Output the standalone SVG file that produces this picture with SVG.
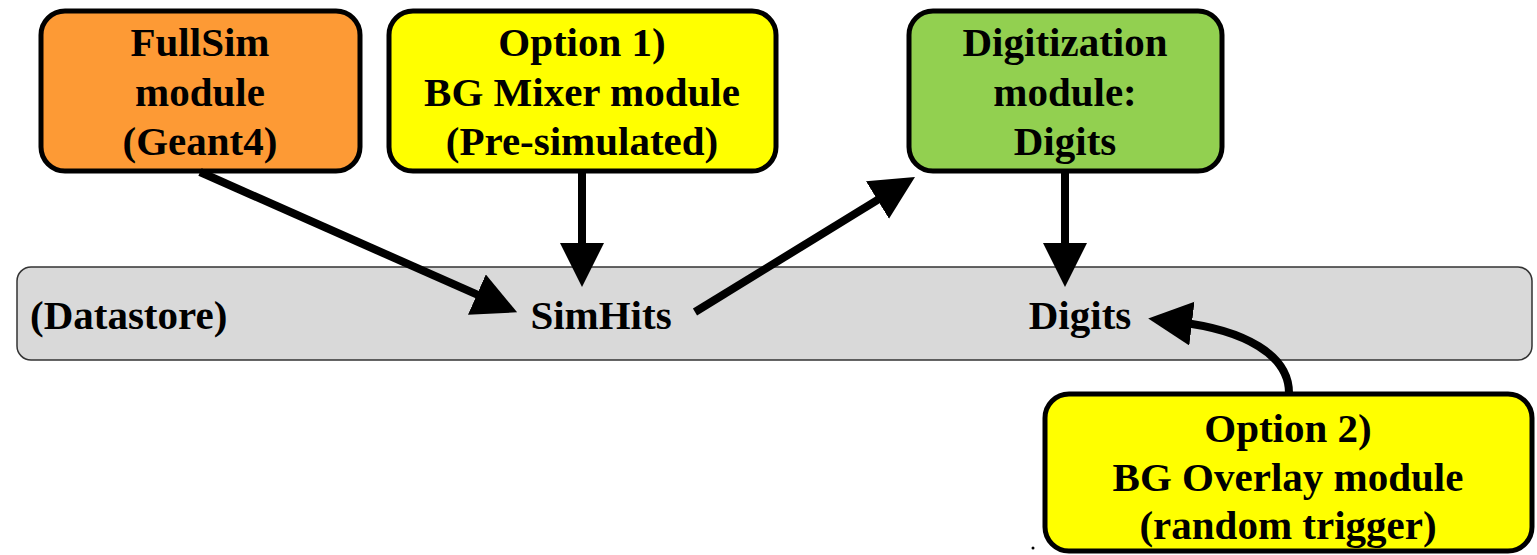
<svg xmlns="http://www.w3.org/2000/svg" width="1537" height="555" viewBox="0 0 1537 555">
<style>
.box{stroke:#000;stroke-width:5}
.t{font-family:'Liberation Serif','Times New Roman',serif;font-weight:700;font-size:41px;fill:#000;text-anchor:middle}
.c{fill:none;stroke:#000;stroke-width:8}
</style>
<defs>
<marker id="ah" markerUnits="userSpaceOnUse" markerWidth="46" markerHeight="46" refX="14" refY="22" orient="auto" viewBox="0 0 46 46">
<path d="M0,0 L44,22 L0,44 Z" fill="#000"/>
</marker>
</defs>
<rect width="1537" height="555" fill="#fff"/>
<g id="datastore">
<rect x="17" y="267" width="1515" height="93" rx="14" fill="#d9d9d9" stroke="#333" stroke-width="1.5"/>
<text class="t" x="30" y="329" style="text-anchor:start">(Datastore)</text>
<text class="t" x="601" y="329">SimHits</text>
<text class="t" x="1080" y="329">Digits</text>
</g>
<g id="fullsim">
<rect class="box" x="41" y="11" width="319" height="160" rx="24" fill="#fd9a35"/>
<text class="t" x="200" y="56">FullSim</text>
<text class="t" x="200" y="106">module</text>
<text class="t" x="200" y="155">(Geant4)</text>
</g>
<g id="option1">
<rect class="box" x="389" y="11" width="387" height="160" rx="24" fill="#ffff00"/>
<text class="t" x="582" y="56">Option 1)</text>
<text class="t" x="582" y="106">BG Mixer module</text>
<text class="t" x="582" y="155">(Pre-simulated)</text>
</g>
<g id="digitization">
<rect class="box" x="909" y="11" width="313" height="160" rx="24" fill="#92d050"/>
<text class="t" x="1065" y="56">Digitization</text>
<text class="t" x="1065" y="106">module:</text>
<text class="t" x="1065" y="155">Digits</text>
</g>
<g id="option2">
<rect class="box" x="1045" y="394" width="487" height="157" rx="24" fill="#ffff00"/>
<text class="t" x="1288" y="442">Option 2)</text>
<text class="t" x="1288" y="491">BG Overlay module</text>
<text class="t" x="1288" y="539">(random trigger)</text>
</g>
<g id="connectors">
<path class="c" d="M200,172 L489.7,300.2" marker-end="url(#ah)"/>
<path class="c" d="M582,173 L582,257" marker-end="url(#ah)"/>
<path class="c" d="M695,312 L889.4,192.7" marker-end="url(#ah)"/>
<path class="c" d="M1065,173 L1065,257" marker-end="url(#ah)"/>
<path class="c" d="M1289,393 C1289,355 1245,330 1178,322" marker-end="url(#ah)"/>
</g>
<circle cx="1033" cy="548" r="1.5" fill="#000"/>
</svg>
